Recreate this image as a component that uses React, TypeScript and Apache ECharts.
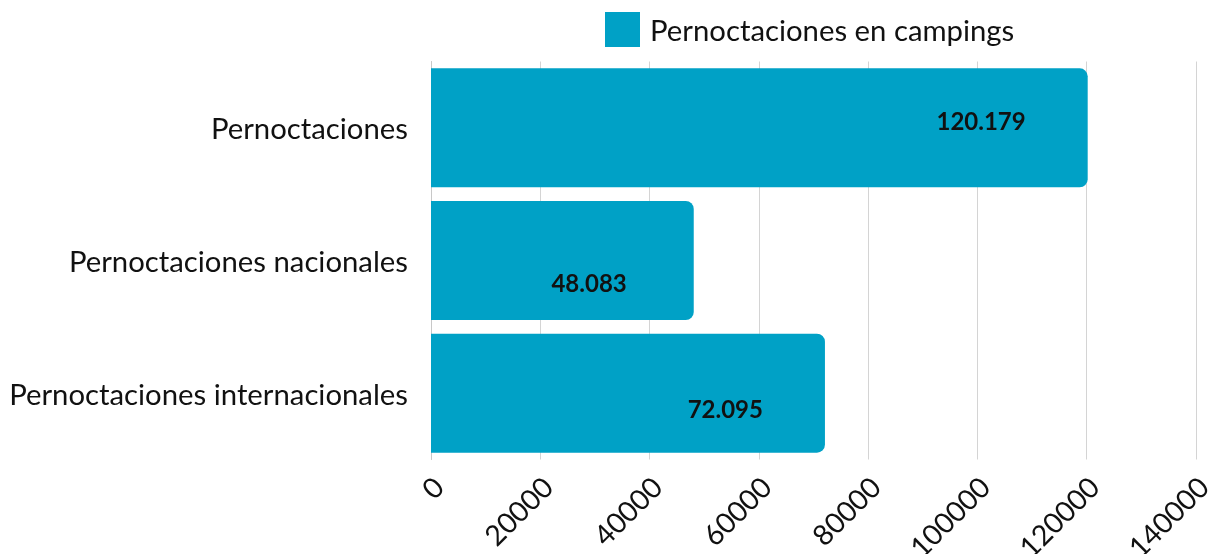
import React, { useEffect, useRef } from "react";
import * as echarts from "echarts";

const categories = ["Pernoctaciones", "Pernoctaciones nacionales", "Pernoctaciones internacionales"];
const values = [120179, 48083, 72095];
const valueLabels = ["120.179", "48.083", "72.095"];
const seriesName = "Pernoctaciones en campings";
const axisMin = 0;
const axisMax = 140000;
const axisInterval = 20000;

const labelOffsets = [[0, -7], [-5, 22], [0, 15]];

export default function App() {
  const ref = useRef<HTMLDivElement>(null);
  useEffect(() => {
    const chart = echarts.init(ref.current!, null, { renderer: "svg" });
    chart.setOption({
      animation: false,
      textStyle: { fontFamily: "Lato" },
      legend: {
        show: true,
        top: 7,
        left: 600,
        itemWidth: 35,
        itemHeight: 35,
        itemGap: 10,
        icon: "rect",
        textStyle: { fontFamily: "Lato", fontSize: 29.3, color: "#111", padding: [0, 0, 0, 5] },
        data: [seriesName],
      },
      grid: {
        left: 431,
        right: 21,
        top: 61.5,
        bottom: 94.5,
        containLabel: false,
        outerBoundsMode: "none",
      },
      xAxis: {
        type: "value",
        min: axisMin,
        max: axisMax,
        interval: axisInterval,
        axisLine: { show: false },
        axisTick: { show: false },
        splitLine: { show: true, lineStyle: { color: "#d4d4d4", width: 1 } },
        axisLabel: {
          rotate: 45,
          margin: 15,
          fontFamily: "Lato",
          fontSize: 28.5,
          lineHeight: 20,
          verticalAlign: "top",
          color: "#111",
          showMaxLabel: true,
          hideOverlap: false,
          formatter: (v: number) => String(v),
        },
      },
      yAxis: {
        type: "category",
        data: categories,
        inverse: true,
        axisLine: { show: true, lineStyle: { color: "#c8c8c8", width: 1 } },
        axisTick: { show: false },
        axisLabel: { fontFamily: "Lato", fontSize: 29.3, color: "#111", margin: 23 },
      },
      series: [
        {
          name: seriesName,
          type: "bar",
          barWidth: 119,
          itemStyle: { color: "#00A1C6", borderRadius: [0, 8, 8, 0] },
          data: values.map((v, i) => ({
            value: v,
            label: {
              show: true,
              position: "insideRight",
              distance: 62,
              offset: labelOffsets[i],
              formatter: valueLabels[i],
              fontFamily: "Lato",
              fontWeight: "bold",
              fontSize: 24,
              color: "#111",
            },
          })),
        },
      ],
    });
    return () => chart.dispose();
  }, []);
  return (
    <div
      ref={ref}
      style={{ position: "fixed", left: 0, top: 0, width: 1217, height: 554 }}
    />
  );
}
